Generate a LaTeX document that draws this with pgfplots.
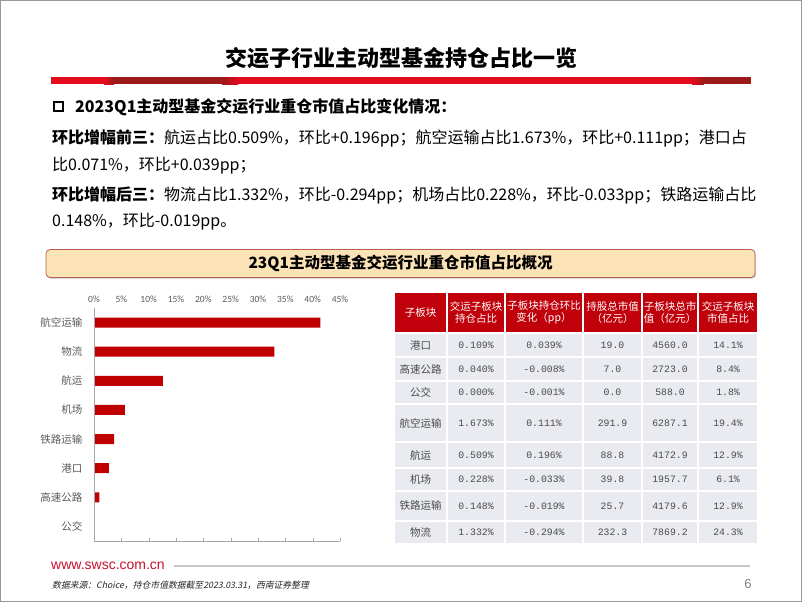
\documentclass[border=0pt]{standalone}
\usepackage{pgfplots}
\pgfplotsset{compat=1.18}
\usepackage{fontspec}
\setmainfont{Liberation Sans}
\newfontfamily\cjk{Noto Sans CJK SC}
\newfontfamily\cjki[FakeSlant=0.22]{Noto Sans CJK SC}
\newfontfamily\mono{Liberation Mono}
\newfontfamily\calfont{Carlito}
\usetikzlibrary{shadows}

\definecolor{barred}{HTML}{C00000}
\definecolor{headred}{HTML}{C0000A}
\definecolor{redbright}{HTML}{E30B1C}
\definecolor{reddark}{HTML}{9C1A1A}
\definecolor{cellgray}{HTML}{E9EBF1}
\definecolor{txtgray}{HTML}{4A4A4A}
\definecolor{tickgray}{HTML}{595959}
\definecolor{axisgray}{HTML}{A6A6A6}
\definecolor{boxfill}{HTML}{FCE3B6}
\definecolor{boxborder}{HTML}{B65F4F}
\definecolor{webred}{HTML}{C8102E}

% one table cell: x1, x2, y1, y2, fill, text style, content
\newcommand\cell[7]{%
  \fill[#5] (#1+1,#3+1) rectangle (#2-1,#4-1);
  \node[#6] at ({(#1+#2)/2},{(#3+#4)/2}) {#7};}
\newcommand\hcell[5]{\cell{#1}{#2}{292}{333}{headred}{text=white,align=center,font=\cjk\fontsize{10.5}{12.5}\selectfont}{#5}}
% body row: y1, y2, six cells
\newcommand\brow[8]{%
  \cell{394}{447}{#1}{#2}{cellgray}{text=txtgray,font=\cjk\fontsize{10.5}{12}\selectfont}{#3}
  \cell{447}{505}{#1}{#2}{cellgray}{text=txtgray,font=\mono\fontsize{9.8}{11}\selectfont}{#4}
  \cell{505}{583}{#1}{#2}{cellgray}{text=txtgray,font=\mono\fontsize{9.8}{11}\selectfont}{#5}
  \cell{583}{642}{#1}{#2}{cellgray}{text=txtgray,font=\mono\fontsize{9.8}{11}\selectfont}{#6}
  \cell{642}{698}{#1}{#2}{cellgray}{text=txtgray,font=\mono\fontsize{9.8}{11}\selectfont}{#7}
  \cell{698}{758}{#1}{#2}{cellgray}{text=txtgray,font=\mono\fontsize{9.8}{11}\selectfont}{#8}}

\begin{document}
\begin{tikzpicture}
\path[use as bounding box] (0pt,0pt) rectangle (802pt,-602pt);
\begin{scope}[x=1pt,y=-1pt]
  \draw[gray!80, line width=1.2pt] (0.6,0.6) rectangle (801.4,601.4);
  % title
  \node[font=\cjk\bfseries\fontsize{22}{26}\selectfont] at (401,58) {交运子行业主动型基金持仓占比一览};
  % red rule
  \fill[redbright] (51,77) rectangle (751,84);
  \shade[left color=redbright, right color=reddark] (104,77) rectangle (114,84);
  \fill[reddark] (114,77) rectangle (222,84);
  \shade[left color=reddark, right color=redbright] (222,77) rectangle (238,84);
  \shade[left color=redbright, right color=reddark] (692,77) rectangle (704,84);
  \fill[reddark] (704,77) rectangle (751,84);
  % text block
  \draw[line width=2pt] (54,101.5) rectangle (63,110.5);
  \begin{scope}[every node/.style={anchor=west, inner sep=0pt, font=\cjk\fontsize{16}{19}\selectfont}]
    \node at (75,107) {\bfseries 2023Q1主动型基金交运行业重仓市值占比变化情况：};
    \node at (52,138) {{\bfseries 环比增幅前三：}航运占比0.509\%，环比+0.196pp；航空运输占比1.673\%，环比+0.111pp；港口占};
    \node at (52,166) {比0.071\%，环比+0.039pp；};
    \node at (52,195) {{\bfseries 环比增幅后三：}物流占比1.332\%，环比-0.294pp；机场占比0.228\%，环比-0.033pp；铁路运输占比};
    \node at (52,222) {0.148\%，环比-0.019pp。};
  \end{scope}
  % section box
  \node[draw=boxborder, line width=0.8pt, fill=boxfill, rounded corners=4pt,
        minimum width=709pt, minimum height=28pt,
        drop shadow={shadow xshift=1pt, shadow yshift=-1.5pt, opacity=0.3},
        font=\cjk\bfseries\fontsize{15.5}{18}\selectfont] at (400.5,263.5) {23Q1主动型基金交运行业重仓市值占比概况};
  % table
  \hcell{394}{447}{}{}{子板块}
  \hcell{447}{505}{}{}{交运子板块\\持仓占比}
  \hcell{505}{583}{}{}{子板块持仓环比\\变化（pp）}
  \hcell{583}{642}{}{}{持股总市值\\（亿元）}
  \hcell{642}{698}{}{}{子板块总市\\值（亿元）}
  \hcell{698}{758}{}{}{交运子板块\\市值占比}
  \brow{333}{357}{港口}{0.109\%}{0.039\%}{19.0}{4560.0}{14.1\%}
  \brow{357}{381}{高速公路}{0.040\%}{-0.008\%}{7.0}{2723.0}{8.4\%}
  \brow{381}{404}{公交}{0.000\%}{-0.001\%}{0.0}{588.0}{1.8\%}
  \brow{404}{442}{航空运输}{1.673\%}{0.111\%}{291.9}{6287.1}{19.4\%}
  \brow{442}{468}{航运}{0.509\%}{0.196\%}{88.8}{4172.9}{12.9\%}
  \brow{468}{491}{机场}{0.228\%}{-0.033\%}{39.8}{1957.7}{6.1\%}
  \brow{491}{521}{铁路运输}{0.148\%}{-0.019\%}{25.7}{4179.6}{12.9\%}
  \brow{521}{544}{物流}{1.332\%}{-0.294\%}{232.3}{7869.2}{24.3\%}
  % footer
  \node[anchor=west, inner sep=0pt, text=webred, font=\fontsize{14}{16}\selectfont] at (51,566) {www.swsc.com.cn};
  \draw[gray!45, line width=1.5pt] (174,566) -- (750,566);
  \node[anchor=west, inner sep=0pt, text=black!85, font=\cjki\fontsize{8.8}{10}\selectfont] at (52,585) {数据来源：Choice，持仓市值数据截至2023.03.31，西南证券整理};
  \node[text=gray, font=\fontsize{13}{15}\selectfont] at (748,584) {6};
\end{scope}

\begin{axis}[
  at={(94pt,-308pt)}, anchor=north west,
  scale only axis, width=246pt, height=233pt,
  xbar, bar width=10pt,
  xmin=0, xmax=45, ymin=-0.5, ymax=7.5,
  axis line style={draw=none},
  xtick={0,5,...,45},
  xticklabel={\pgfmathprintnumber{\tick}\%},
  xticklabel pos=upper, xtick pos=lower,
  xtick style={draw=axisgray},
  major tick length=3pt,
  xticklabel style={font=\calfont\fontsize{9.5}{11}\selectfont, text=tickgray, yshift=2pt},
  /pgf/number format/assume math mode=true,
  ytick={0,...,7},
  yticklabels={公交,高速公路,港口,铁路运输,机场,航运,物流,航空运输},
  ytick style={draw=none},
  yticklabel style={font=\cjk\fontsize{10.5}{12}\selectfont, text=tickgray, xshift=-5pt},
  extra y ticks={0.5,1.5,...,6.5},
  extra y tick labels={},
  extra y tick style={ytick pos=left, tick style={draw=axisgray}},
]
\addplot[fill=barred, draw=none] coordinates {(41.42,7) (32.98,6) (12.60,5) (5.64,4) (3.66,3) (2.70,2) (0.99,1) (0,0)};
\draw[axisgray] (rel axis cs:0,0) -- (rel axis cs:1,0);
\draw[axisgray] (rel axis cs:0,0) -- (rel axis cs:0,1);
\end{axis}
\end{tikzpicture}
\end{document}
